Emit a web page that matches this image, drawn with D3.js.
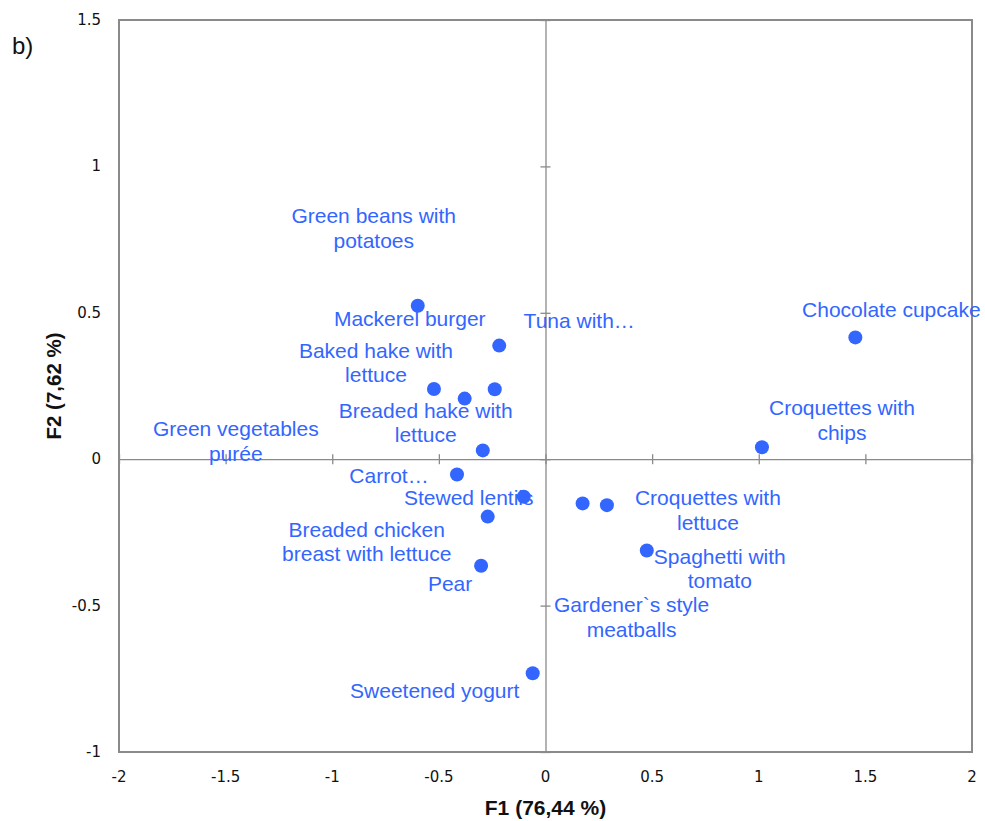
<!DOCTYPE html>
<html>
<head>
<meta charset="utf-8">
<script src="https://cdn.jsdelivr.net/npm/d3@7"></script>
<style>
  html, body { margin: 0; padding: 0; background: #fff; }
  svg { display: block; }
</style>
</head>
<body>
<svg id="chart" width="985" height="821"></svg>
<script>
// Dishes and their factor scores (F1, F2)
const dishes = [
  "Mackerel burger", "Tuna with…", "Baked hake with\nlettuce", "Breaded hake with\nlettuce",
  "Green beans with\npotatoes", "Green vegetables\npurée", "Carrot…", "Stewed lentils",
  "Breaded chicken\nbreast with lettuce", "Pear", "Sweetened yogurt", "Gardener`s style\nmeatballs",
  "Croquettes with\nlettuce", "Spaghetti with\ntomato", "Croquettes with\nchips", "Chocolate cupcake"
];
const f1 = [-0.599, -0.217, -0.523, -0.379, -0.238, -0.294, -0.415, -0.102,
            -0.271, -0.302, -0.060, 0.174, 0.288, 0.475, 1.015, 1.453];
const f2 = [0.524, 0.388, 0.240, 0.207, 0.239, 0.030, -0.052, -0.128,
            -0.196, -0.364, -0.731, -0.151, -0.157, -0.312, 0.041, 0.416];

// Axis ticks
const xTicks = [-2, -1.5, -1, -0.5, 0, 0.5, 1, 1.5, 2];
const yTicks = [-1, -0.5, 0, 0.5, 1, 1.5];

// Label placement offsets (pixels from each point to the label's first line)
const labelOffsets = [
  [-8, 12], [80, -26], [-58, -39], [-39, 11],
  [-121, -174], [-247, -22], [-68, 1], [-55, 0],
  [-121, 12], [-31, 17], [-98, 17], [49, 101],
  [101, -8], [73, 5], [80, -40], [36, -28]
];

const svg = d3.select("#chart");
const plotL = 119, plotR = 972, plotT = 20, plotB = 752;

const x = d3.scaleLinear().domain([-2, 2]).range([plotL, plotR]);
const y = d3.scaleLinear().domain([-1, 1.5]).range([plotB, plotT]);

const gray = "#8a8a8a";
const blue = "#3366ff";

// Zero axes with crossing tick marks
const xAxis = svg.append("g").attr("transform", `translate(0,${y(0)})`)
  .call(d3.axisBottom(x).tickValues(xTicks).tickSizeInner(5).tickSizeOuter(0).tickFormat(""));
xAxis.selectAll(".tick line").attr("y1", -5).attr("y2", 5);
const yAxis = svg.append("g").attr("transform", `translate(${x(0)},0)`)
  .call(d3.axisLeft(y).tickValues(yTicks).tickSizeInner(5).tickSizeOuter(0).tickFormat(""));
yAxis.selectAll(".tick line").attr("x1", -5).attr("x2", 5);
svg.selectAll(".domain").attr("stroke", gray).attr("stroke-width", 1.3);
svg.selectAll(".tick line").attr("stroke", gray).attr("stroke-width", 1.3);

// Plot frame
svg.append("rect")
  .attr("x", plotL).attr("y", plotT)
  .attr("width", plotR - plotL).attr("height", plotB - plotT)
  .attr("fill", "none").attr("stroke", gray).attr("stroke-width", 2);

// Tick labels
svg.append("g").selectAll("text").data(yTicks).join("text")
  .attr("x", 101).attr("y", d => y(d))
  .attr("text-anchor", "end").attr("dominant-baseline", "central")
  .attr("font-family", "DejaVu Sans").attr("font-size", 15).attr("fill", "#111")
  .text(d => String(d));

svg.append("g").selectAll("text").data(xTicks).join("text")
  .attr("x", d => x(d)).attr("y", 777)
  .attr("text-anchor", "middle").attr("dominant-baseline", "central")
  .attr("font-family", "DejaVu Sans").attr("font-size", 15).attr("fill", "#111")
  .text(d => String(d));

// Axis titles
svg.append("text")
  .attr("x", x(0)).attr("y", 807)
  .attr("text-anchor", "middle").attr("dominant-baseline", "central")
  .attr("font-family", "Liberation Sans").attr("font-weight", "bold").attr("font-size", 21)
  .attr("fill", "#111").text("F1 (76,44 %)");

svg.append("text")
  .attr("transform", `translate(53,${(plotT + plotB) / 2}) rotate(-90)`)
  .attr("text-anchor", "middle").attr("dominant-baseline", "central")
  .attr("font-family", "Liberation Sans").attr("font-weight", "bold").attr("font-size", 20.5)
  .attr("fill", "#111").text("F2 (7,62 %)");

// Panel tag
svg.append("text").attr("x", 12).attr("y", 54)
  .attr("font-family", "Liberation Sans").attr("font-size", 24).attr("fill", "#111")
  .text("b)");

// Points
const pts = dishes.map((name, i) => ({ name, f1: f1[i], f2: f2[i], off: labelOffsets[i] }));

svg.append("g").selectAll("circle").data(pts).join("circle")
  .attr("cx", d => x(d.f1)).attr("cy", d => y(d.f2))
  .attr("r", 7).attr("fill", blue);

// Point labels
const lbl = svg.append("g").selectAll("text").data(pts).join("text")
  .attr("text-anchor", "middle").attr("dominant-baseline", "central")
  .attr("font-family", "Liberation Sans").attr("font-size", 21).attr("fill", blue);
lbl.each(function (d) {
  const cx = x(d.f1) + d.off[0], cy = y(d.f2) + d.off[1];
  d3.select(this).selectAll("tspan").data(d.name.split("\n")).join("tspan")
    .attr("x", cx).attr("y", (s, j) => cy + j * 24.5).text(s => s);
});
</script>
</body>
</html>
